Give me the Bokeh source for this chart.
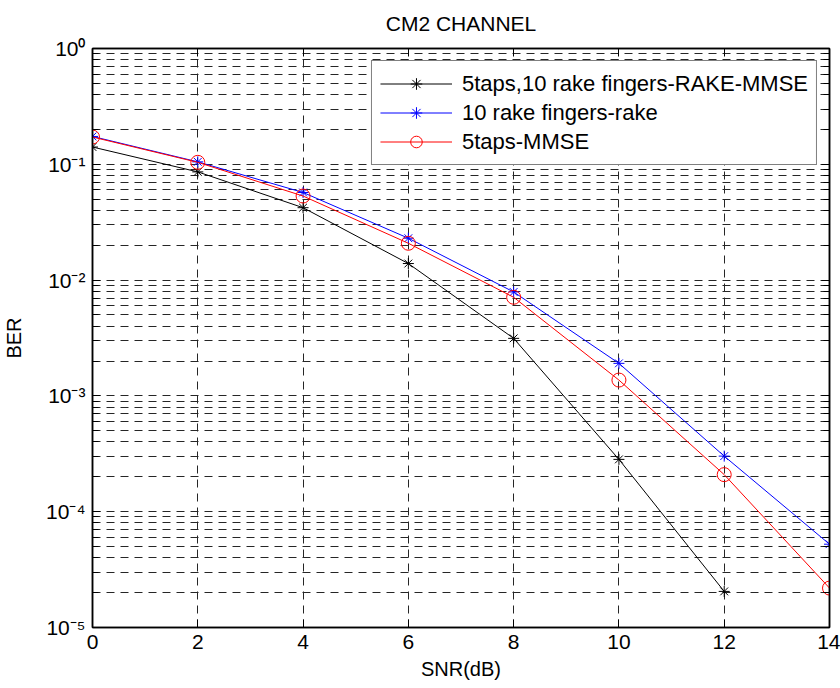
from bokeh.plotting import figure
from bokeh.models import (Range1d, FixedTicker, CustomJSTickFormatter, LinearAxis,
                          LogAxis, Legend, LegendItem)
from bokeh.embed import file_html
from bokeh.resources import INLINE

# ---- data ----
snr_rake_mmse = [0, 2, 4, 6, 8, 10, 12]
ber_rake_mmse = [0.141, 0.086, 0.0422, 0.0139, 0.00314, 0.000283, 0.0000205]

snr_rake = [0, 2, 4, 6, 8, 10, 12, 14]
ber_rake = [0.174, 0.105, 0.0571, 0.0230, 0.0079, 0.00191, 0.000302, 0.0000524]

snr_mmse = [0, 2, 4, 6, 8, 10, 12, 14]
ber_mmse = [0.172, 0.104, 0.0532, 0.0208, 0.00711, 0.00137, 0.000209, 0.0000219]

labels = ["5taps,10 rake fingers-RAKE-MMSE", "10 rake fingers-rake", "5taps-MMSE"]
x_ticks = [0, 2, 4, 6, 8, 10, 12, 14]
y_exponents = [-5, -4, -3, -2, -1, 0]

FONT = "Liberation Sans"
GRID = "#262626"
DASH = "8 6"

y_major = [10.0 ** e for e in y_exponents]
y_minor = [m * 10.0 ** e for e in y_exponents[:-1] for m in range(2, 10)]

p = figure(width=840, height=688, output_backend="svg", toolbar_location=None,
           y_axis_type="log", x_range=Range1d(0, 14), y_range=Range1d(1e-5, 1),
           min_border_left=91, min_border_right=11, min_border_top=46,
           min_border_bottom=61)
p.background_fill_color = "white"
p.border_fill_color = "white"
p.outline_line_color = "black"
p.outline_line_width = 1.5

p.title.text = "CM2 CHANNEL"
p.title.align = "center"
p.title.vertical_align = "top"
p.title.text_font = FONT
p.title.text_font_style = "normal"
p.title.text_font_size = "21px"
p.title.text_color = "black"
p.title.standoff = 23

sup_fmt = CustomJSTickFormatter(code=r"""
const sup = {"0":"\u2070","1":"\u00b9","2":"\u00b2","3":"\u00b3","4":"\u2074",
             "5":"\u2075","6":"\u2076","7":"\u2077","8":"\u2078","9":"\u2079","-":"\u207b"};
const e = Math.round(Math.log10(tick));
return "10" + String(e).split("").map(c => sup[c]).join("");
""")
blank_fmt = CustomJSTickFormatter(code="return ''")

xa = p.xaxis[0]
xa.ticker = FixedTicker(ticks=x_ticks)
xa.axis_label = "SNR(dB)"
ya = p.yaxis[0]
ya.ticker = FixedTicker(ticks=y_major, minor_ticks=y_minor)
ya.formatter = sup_fmt
ya.axis_label = "BER"

for ax in (xa, ya):
    ax.axis_label_text_font = FONT
    ax.axis_label_text_font_style = "normal"
    ax.axis_label_text_font_size = "20px"
    ax.axis_label_text_color = "black"
    ax.major_label_text_font = FONT
    ax.major_label_text_font_size = "21px"
    ax.major_label_text_color = "black"
    ax.axis_line_color = "black"
    ax.axis_line_width = 1.5
    ax.major_tick_line_color = "black"
    ax.minor_tick_line_color = "black"
    ax.major_tick_in = 8
    ax.major_tick_out = 0
    ax.minor_tick_in = 6
    ax.minor_tick_out = 0
    ax.major_label_standoff = 7
xa.axis_label_standoff = 6
ya.axis_label_standoff = 18

top_axis = LinearAxis(ticker=FixedTicker(ticks=x_ticks), formatter=blank_fmt)
right_axis = LogAxis(ticker=FixedTicker(ticks=y_major, minor_ticks=y_minor), formatter=blank_fmt)
for ax in (top_axis, right_axis):
    ax.axis_line_color = "black"
    ax.axis_line_width = 1.5
    ax.major_tick_line_color = "black"
    ax.minor_tick_line_color = "black"
    ax.major_tick_in = 8
    ax.major_tick_out = 0
    ax.minor_tick_in = 6
    ax.minor_tick_out = 0
    ax.major_label_standoff = 0
    ax.major_label_text_font_size = "0px"
p.add_layout(top_axis, "above")
p.add_layout(right_axis, "right")

p.xgrid.ticker = FixedTicker(ticks=x_ticks)
p.xgrid.grid_line_color = GRID
p.xgrid.grid_line_dash = DASH
p.xgrid.grid_line_width = 1
p.ygrid.ticker = FixedTicker(ticks=y_major, minor_ticks=y_minor)
p.ygrid.grid_line_color = GRID
p.ygrid.grid_line_dash = DASH
p.ygrid.grid_line_width = 1
p.ygrid.minor_grid_line_color = GRID
p.ygrid.minor_grid_line_dash = DASH
p.ygrid.minor_grid_line_width = 1

l1 = p.line(snr_rake_mmse, ber_rake_mmse, line_color="black", line_width=1)
m1 = p.scatter(snr_rake_mmse, ber_rake_mmse, marker="asterisk", size=11,
               line_color="black", line_width=1)
l2 = p.line(snr_rake, ber_rake, line_color="blue", line_width=1)
m2 = p.scatter(snr_rake, ber_rake, marker="asterisk", size=11,
               line_color="blue", line_width=1)
l3 = p.line(snr_mmse, ber_mmse, line_color="red", line_width=1)
m3 = p.scatter(snr_mmse, ber_mmse, marker="circle", size=14,
               line_color="red", fill_color=None, line_width=1)

legend = Legend(items=[LegendItem(label=labels[0], renderers=[l1, m1]),
                       LegendItem(label=labels[1], renderers=[l2, m2]),
                       LegendItem(label=labels[2], renderers=[l3, m3])],
                location="top_right")
legend.margin = 12
legend.padding = 8
legend.spacing = 0
legend.glyph_width = 72
legend.glyph_height = 29
legend.label_height = 29
legend.label_standoff = 10
legend.label_text_font = FONT
legend.label_text_font_size = "22px"
legend.label_text_color = "black"
legend.border_line_color = "black"
legend.border_line_width = 1
legend.background_fill_color = "white"
legend.background_fill_alpha = 1
p.add_layout(legend, "center")

open("out.html", "w", encoding="utf-8").write(file_html(p, INLINE))
